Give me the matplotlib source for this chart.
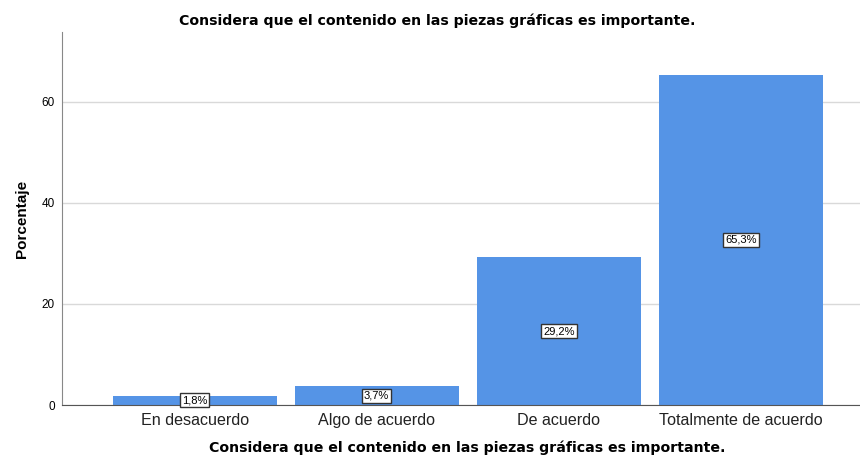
import matplotlib.pyplot as plt
import numpy as np

categorias = ['En desacuerdo', 'Algo de acuerdo', 'De acuerdo', 'Totalmente de acuerdo']
porcentajes = [1.8, 3.7, 29.2, 65.3]
etiquetas = ['1,8%', '3,7%', '29,2%', '65,3%']
titulo = 'Considera que el contenido en las piezas gráficas es importante.'

plt.rcParams['font.family'] = ['Liberation Sans', 'DejaVu Sans']

fig = plt.figure(figsize=(8.6, 4.59), dpi=100)
ax = fig.add_axes([0.0721, 0.1176, 0.9279, 0.8127])

x = np.arange(len(categorias))
ax.bar(x, porcentajes, width=0.9, color='#5594e6', zorder=2)

for xi, v, et in zip(x, porcentajes, etiquetas):
    ax.text(xi, v / 2, et, ha='center', va='center', fontsize=8, color='black', zorder=3,
            bbox=dict(boxstyle='square,pad=0.18', facecolor='white', edgecolor='#333333', linewidth=1))

ax.set_xlim(-0.728, 3.654)
ax.set_ylim(0, 73.8)
ax.set_yticks([0, 20, 40, 60])
ax.set_xticks(x)
ax.set_xticklabels(categorias, fontsize=11.6, color='#222222')
ax.tick_params(axis='y', labelsize=8.5, length=0, pad=5)
ax.tick_params(axis='x', length=0, pad=6)
ax.grid(axis='y', color='#d9d9d9', linewidth=1, zorder=0)

for s in ['top', 'right']:
    ax.spines[s].set_visible(False)
ax.spines['left'].set_color('#888888')
ax.spines['bottom'].set_color('#555555')

ax.set_title(titulo, fontsize=10.2, fontweight='bold', pad=5, x=0.47, family='DejaVu Sans')
ax.set_ylabel('Porcentaje', fontsize=11, fontweight='bold', labelpad=9)
ax.set_xlabel(titulo, fontsize=10.2, fontweight='bold', labelpad=11, family='DejaVu Sans')
ax.xaxis.set_label_coords(0.508, -0.095)

fig.savefig('out.png', dpi=100)
